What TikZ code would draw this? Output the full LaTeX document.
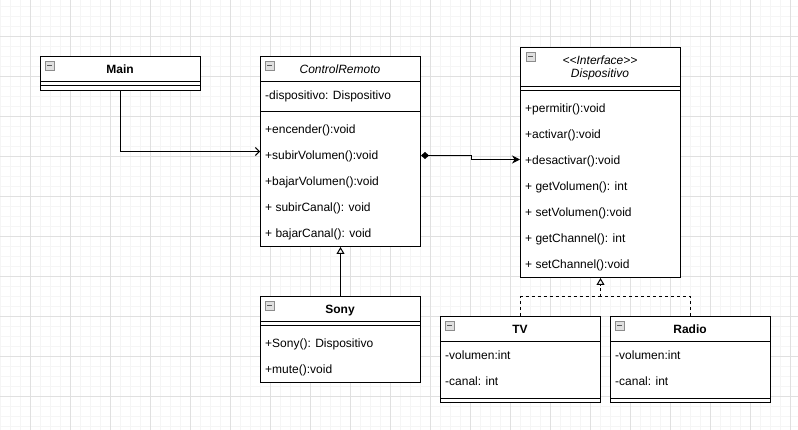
\documentclass[tikz,border=0pt]{standalone}
\usepackage{fontspec}
\setmainfont{Liberation Sans}
\usetikzlibrary{arrows.meta}

\begin{document}
\begin{tikzpicture}[x=1pt, y=-1pt,
	every node/.style={font=\fontsize{12}{13}\selectfont, text=black},
	oneline/.style={text height=8.6pt, text depth=0pt},
	classbox/.style={draw, line width=1pt, fill=white, anchor=north west, inner sep=0, minimum width=160pt},
	member/.style={oneline, anchor=west, inner sep=0},
	classname/.style={oneline, inner sep=0, font=\fontsize{12}{13}\selectfont\bfseries},
	abstractname/.style={inner sep=0, align=center, font=\fontsize{12}{13}\selectfont\itshape},
	icon/.style={draw=black!45, fill=black!12, minimum size=9pt, inner sep=0, line width=0.6pt,
		path picture={\draw[black!65, line width=1pt] ([xshift=2pt]path picture bounding box.west) -- ([xshift=-2pt]path picture bounding box.east);}},
	sep/.style={line width=1pt},
	minorgrid/.style={draw=black!4, line width=0.6pt},
	majorgrid/.style={draw=black!12, line width=0.8pt},
	assoc/.style={line width=1pt, -{Straight Barb[length=4pt,width=8pt]}},
	compo/.style={line width=1pt, {Diamond[length=8pt,width=7pt]}-{Stealth[length=8pt,width=8pt]}},
	inherit/.style={line width=1pt, -{Triangle[open,length=7pt,width=8pt]}},
	realize/.style={line width=1pt, dash pattern=on 3pt off 3pt}]

	\useasboundingbox (0,0) rectangle (798,430);
	% grid
	\foreach \x in {0,10,...,790} \draw[minorgrid] (\x,0) -- (\x,430);
	\foreach \y in {6,16,...,426} \draw[minorgrid] (0,\y) -- (798,\y);
	\foreach \x in {30,70,...,790} \draw[majorgrid] (\x,0) -- (\x,430);
	\foreach \y in {36,76,...,396} \draw[majorgrid] (0,\y) -- (798,\y);

	% class Main
	\node[classbox, minimum height=34pt] (main) at (40,56) {};
	\draw[sep] (main.north west) ++(0,26) -- ++(160,0);
	\draw[sep] (main.north west) ++(0,30) -- ++(160,0);
	\node[icon] (main-icon) at (49.5,65.5) {};
	\node[classname] (main-name) at (120,69.5) {Main};

	% class ControlRemoto
	\node[classbox, minimum height=190pt] (cr) at (260,56) {};
	\draw[sep] (cr.north west) ++(0,26) -- ++(160,0);
	\draw[sep] (cr.north west) ++(0,56) -- ++(160,0);
	\node[icon] (cr-icon) at (269.5,65.5) {};
	\node[abstractname, oneline] (cr-name) at (340,69.5) {ControlRemoto};
	\node[member] (cr-a1) at (265,95.5) {-dispositivo: Dispositivo};
	\node[member] (cr-m1) at (265,129.5) {+encender():void};
	\node[member] (cr-m2) at (265,155.5) {+subirVolumen():void};
	\node[member] (cr-m3) at (265,181.5) {+bajarVolumen():void};
	\node[member] (cr-m4) at (265,207.5) {+ subirCanal(): void};
	\node[member] (cr-m5) at (265,233.5) {+ bajarCanal(): void};

	% interface Dispositivo
	\node[classbox, minimum height=230pt] (disp) at (520,47) {};
	\draw[sep] (disp.north west) ++(0,40) -- ++(160,0);
	\draw[sep] (disp.north west) ++(0,44) -- ++(160,0);
	\node[icon] (disp-icon) at (530.5,56.5) {};
	\node[abstractname] (disp-name) at (600,67.5) {<{}<Interface>{}>\\Dispositivo};
	\node[member] (disp-m1) at (525,108.5) {+permitir():void};
	\node[member] (disp-m2) at (525,134.5) {+activar():void};
	\node[member] (disp-m3) at (525,160.5) {+desactivar():void};
	\node[member] (disp-m4) at (525,186.5) {+ getVolumen(): int};
	\node[member] (disp-m5) at (525,212.5) {+ setVolumen():void};
	\node[member] (disp-m6) at (525,238.5) {+ getChannel(): int};
	\node[member] (disp-m7) at (525,264.5) {+ setChannel():void};

	% class Sony
	\node[classbox, minimum height=86pt] (sony) at (260,296) {};
	\draw[sep] (sony.north west) ++(0,26) -- ++(160,0);
	\draw[sep] (sony.north west) ++(0,30) -- ++(160,0);
	\node[icon] (sony-icon) at (269.5,305.5) {};
	\node[classname] (sony-name) at (340,309.5) {Sony};
	\node[member] (sony-m1) at (265,343.5) {+Sony(): Dispositivo};
	\node[member] (sony-m2) at (265,369.5) {+mute():void};

	% class TV
	\node[classbox, minimum height=86pt] (tv) at (440,316) {};
	\draw[sep] (tv.north west) ++(0,26) -- ++(160,0);
	\draw[sep] (tv.north west) ++(0,82) -- ++(160,0);
	\node[icon] (tv-icon) at (449.5,325.5) {};
	\node[classname] (tv-name) at (520,329.5) {TV};
	\node[member] (tv-a1) at (445,355.5) {-volumen:int};
	\node[member] (tv-a2) at (445,381.5) {-canal: int};

	% class Radio
	\node[classbox, minimum height=86pt] (radio) at (610,316) {};
	\draw[sep] (radio.north west) ++(0,26) -- ++(160,0);
	\draw[sep] (radio.north west) ++(0,82) -- ++(160,0);
	\node[icon] (radio-icon) at (619.5,325.5) {};
	\node[classname] (radio-name) at (690,329.5) {Radio};
	\node[member] (radio-a1) at (615,355.5) {-volumen:int};
	\node[member] (radio-a2) at (615,381.5) {-canal: int};

	% Main uses ControlRemoto
	\draw[assoc] (main.south) |- (cr.west);
	% ControlRemoto holds a Dispositivo
	\draw[compo] ([yshift=-4pt]cr.east) -- ++(50,0) |- ([yshift=3pt]disp.west);
	% Sony extends ControlRemoto
	\draw[inherit] (sony.north) -- (cr.south);
	% TV and Radio implement Dispositivo
	\coordinate (join) at ([yshift=-19pt]disp.south);
	\draw[realize] (tv.north) |- (join);
	\draw[realize] (radio.north) |- (join);
	\draw[realize, inherit] (join) -- (disp.south);
\end{tikzpicture}
\end{document}
